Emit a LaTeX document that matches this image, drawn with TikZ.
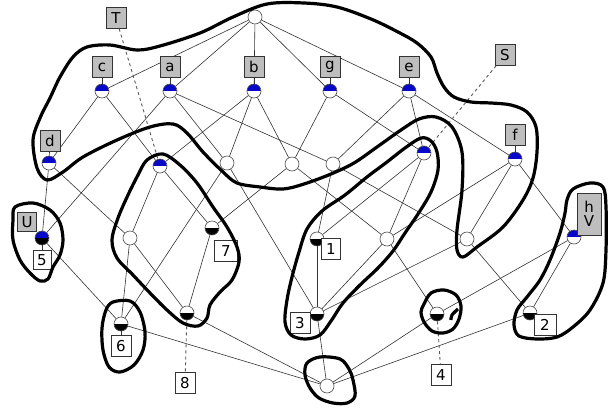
\documentclass[tikz,border=0pt]{standalone}
\usepackage{fontspec}
\setmainfont{DejaVu Sans}
\definecolor{ublue}{RGB}{8,8,200}
\definecolor{lgray}{RGB}{190,190,190}
\begin{document}
\begin{tikzpicture}[x=1pt,y=-1pt,
  conc/.style={circle,draw=black!70,fill=white,minimum size=14pt,inner sep=0pt,line width=0.6pt},
  attrc/.style={conc,path picture={\fill[ublue] (path picture bounding box.west) rectangle (path picture bounding box.north east);}},
  objc/.style={conc,path picture={\fill[black] (path picture bounding box.west) rectangle (path picture bounding box.south east);}},
  bothc/.style={conc,path picture={\fill[ublue] (path picture bounding box.west) rectangle (path picture bounding box.north east);
      \fill[black] (path picture bounding box.west) rectangle (path picture bounding box.south east);}},
  alab/.style={rectangle,draw=black!80,fill=lgray,line width=0.6pt,minimum width=20pt,minimum height=21pt,inner sep=1pt,font=\fontsize{15}{16}\selectfont},
  olab/.style={rectangle,draw=black!80,fill=white,line width=0.6pt,minimum width=20pt,minimum height=21pt,inner sep=1pt,font=\fontsize{15}{16}\selectfont},
  edge/.style={draw=black!80,line width=0.6pt},
  pointer/.style={draw=black!65,line width=0.9pt,dash pattern=on 3pt off 3pt},
  blob/.style={line width=3.2pt,line join=round}
]
\useasboundingbox (0,0) rectangle (608,410);

% concepts
\node[conc]  (top) at (255,17) {};
\node[attrc] (c) at (102,91) {};
\node[attrc] (a) at (170,91) {};
\node[attrc] (b) at (254,91) {};
\node[attrc] (g) at (330,91) {};
\node[attrc] (e) at (409,91) {};
\node[attrc] (d) at (49,163) {};
\node[attrc] (t) at (160,166) {};
\node[conc]  (c1) at (227,163) {};
\node[conc]  (c2) at (292,164) {};
\node[conc]  (c3) at (333,164) {};
\node[attrc] (s) at (424,153) {};
\node[attrc] (f) at (515,159) {};
\node[bothc] (u5) at (42,238) {};
\node[conc]  (c4) at (130,238) {};
\node[objc]  (o7) at (212,228) {};
\node[objc]  (o1) at (317,239) {};
\node[conc]  (c5) at (387,239) {};
\node[conc]  (c6) at (467,239) {};
\node[attrc] (v) at (574,237) {};
\node[objc]  (o6) at (121,324) {};
\node[objc]  (o8) at (187,313) {};
\node[objc]  (o3) at (317,314) {};
\node[objc]  (o4) at (437,314) {};
\node[objc]  (o2) at (530,313) {};
\node[conc]  (bot) at (327,386) {};

% lattice edges
\begin{scope}[on background layer/.try]
\foreach \p/\q in {top/c,top/a,top/b,top/g,top/e,
  c/d,c/t,a/u5,a/c1,a/c3,b/t,b/c1,b/c2,g/c2,g/s,e/c3,e/s,e/f,
  d/u5,d/c4,t/c4,t/o7,c1/o6,c1/o3,c2/o7,c2/c5,c3/o1,c3/c6,
  s/o1,s/c5,f/c5,f/c6,f/v,u5/o6,c4/o6,c4/o8,o7/o8,o1/o3,
  c5/o3,c5/o4,c6/o3,c6/o2,v/o4,v/o2,
  o6/bot,o8/bot,o3/bot,o4/bot,o2/bot}
  \draw[edge] (\p) -- (\q);
\end{scope}

% attribute labels
\node[alab] (Lc) at (102,67) {c};
\node[alab] (La) at (170,67) {a};
\node[alab] (Lb) at (254,67) {b};
\node[alab] (Lg) at (330,67) {g};
\node[alab] (Le) at (409,67) {e};
\node[alab] (Ld) at (50,141) {d};
\node[alab] (Lf) at (515,135) {f};
\node[alab] (LT) at (116,18) {T};
\node[alab] (LS) at (505,55) {S};
\node[alab,minimum width=19pt,minimum height=19pt] (LU) at (27,222) {U};
\node[alab,minimum width=24pt,minimum height=42pt,align=center] (LhV) at (589,214) {h\\[-2pt]V};
\draw[edge] (Lc) -- (c);
\draw[edge] (La) -- (a);
\draw[edge] (Lb) -- (b);
\draw[edge] (Lg) -- (g);
\draw[edge] (Le) -- (e);
\draw[edge] (Ld) -- (d);
\draw[edge] (Lf) -- (f);
\draw[pointer] (LT) -- (t);
\draw[pointer] (LS) -- (s);

% object labels
\node[olab,minimum width=18pt,minimum height=19pt] (L5) at (42,260) {5};
\node[olab] (L6) at (121,346) {6};
\node[olab,minimum width=23pt] (L7) at (226,251) {7};
\node[olab] (L8) at (185,383) {8};
\node[olab,minimum width=19pt] (L1) at (331,249) {1};
\node[olab] (L3) at (300,323) {3};
\node[olab] (L4) at (441,375) {4};
\node[olab,minimum width=22pt] (L2) at (545,325) {2};
\draw[edge] (u5) -- (L5);
\draw[edge] (o6) -- (L6);
\draw[pointer] (o8) -- (L8);
\draw[pointer] (o4) -- (L4);

% hand-drawn groupings
\draw[blob] plot[smooth cycle,tension=0.55] coordinates {
  (137,50) (160,46) (200,33) (233,17) (267,4) (304,3) (337,7) (371,19) (398,32)
  (417,43) (431,57) (437,73) (444,87) (454,97) (471,102) (491,103) (511,105)
  (527,112) (536,127) (537,152) (533,178) (523,200) (503,227) (477,247) (463,257)
  (457,250) (457,230) (462,190) (462,152) (452,127) (436,117) (419,119) (401,130)
  (377,147) (354,163) (331,174) (304,184) (283,189) (260,187) (237,183) (222,171)
  (203,152) (187,133) (173,124) (150,127) (117,140) (83,157) (63,172) (47,180)
  (37,168) (33,140) (40,118) (50,98) (60,77) (73,57) (87,47) (110,45)};
\draw[blob] plot[smooth cycle,tension=0.55] coordinates {
  (421,138) (431,141) (437,152) (438,170) (431,192) (418,214) (405,233) (393,251)
  (378,268) (360,285) (343,303) (331,321) (320,335) (305,339) (291,335) (285,322)
  (287,300) (292,277) (299,252) (307,229) (322,211) (345,195) (367,177) (387,162)
  (405,148)};
\draw[blob] plot[smooth cycle,tension=0.55] coordinates {
  (147,160) (163,154) (180,165) (197,183) (213,207) (227,227) (237,247) (239,262)
  (232,280) (220,292) (210,305) (207,318) (198,326) (183,323) (167,310) (150,293)
  (133,275) (117,258) (112,240) (118,218) (128,195) (138,175)};
\draw[blob] plot[smooth cycle,tension=0.55] coordinates {
  (15,207) (33,203) (50,210) (60,223) (63,240) (60,255) (53,267) (48,279) (40,281)
  (30,273) (20,260) (13,240) (13,220)};
\draw[blob] plot[smooth cycle,tension=0.55] coordinates {
  (113,302) (130,301) (140,312) (145,332) (143,350) (134,365) (120,372) (109,367)
  (103,350) (102,328) (106,310)};
\draw[blob] plot[smooth cycle,tension=0.55] coordinates {
  (307,363) (320,357) (340,359) (349,369) (353,380) (355,396) (347,403) (333,403)
  (319,398) (310,388) (305,375)};
\draw[blob] plot[smooth cycle,tension=0.55] coordinates {
  (424,304) (431,293) (444,290) (456,295) (461,306) (459,319) (453,329) (443,333)
  (432,331) (424,322) (421,312)};
\draw[blob] plot[smooth,tension=0.6] coordinates {(458,309) (452,315) (451,320)};
\draw[blob] plot[smooth cycle,tension=0.55] coordinates {
  (567,200) (573,189) (590,183) (603,187) (606,207) (606,250) (603,283) (590,310)
  (573,327) (557,337) (537,339) (519,336) (514,325) (517,310) (527,297) (540,280)
  (550,260) (560,233) (565,213)};
\end{tikzpicture}
\end{document}
